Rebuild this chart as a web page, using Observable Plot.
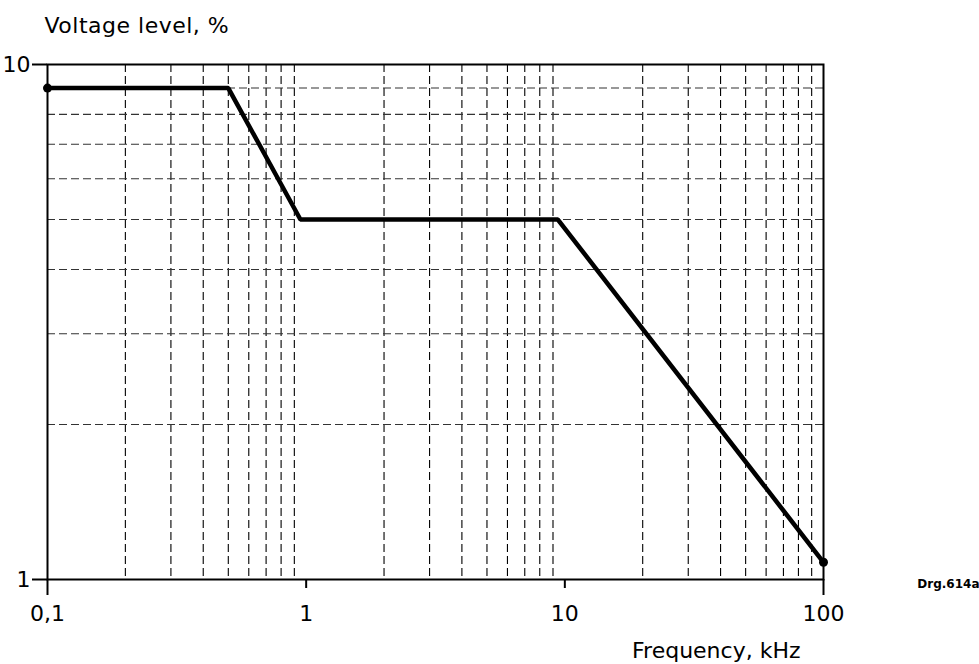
<!DOCTYPE html>
<html>
<head>
<meta charset="utf-8">
<script src="https://cdn.jsdelivr.net/npm/d3@7"></script>
<script src="https://cdn.jsdelivr.net/npm/@observablehq/plot@0.6"></script>
<style>
  html, body { margin: 0; padding: 0; background: #fff; }
</style>
</head>
<body>
<div id="chart"></div>
<script>
// Data
const freq = [0.1, 0.5, 0.95, 9.4, 100];
const level = [9, 9, 5, 5, 1.08];
const xMinor = [0.2, 0.3, 0.4, 0.5, 0.6, 0.7, 0.8, 0.9, 2, 3, 4, 5, 6, 7, 8, 9, 20, 30, 40, 50, 60, 70, 80, 90];
const yMinor = [2, 3, 4, 5, 6, 7, 8, 9];
const xTicksEnd = [0.1, 100];
const xTicksMid = [1, 10];
const xTicks = [0.1, 1, 10, 100];
const xTickLabels = ["0,1", "1", "10", "100"];
const yTicks = [1, 10];
const yTickLabels = ["1", "10"];
const yTitle = "Voltage level, %";
const xTitle = "Frequency, kHz";
const note = "Drg.614a";

const pts = freq.map((f, i) => ({f, v: level[i]}));
const ends = [pts[0], pts[pts.length - 1]];
const font = "'DejaVu Sans', sans-serif";
const xfmt = d => xTickLabels[xTicks.indexOf(d)];

const chart = Plot.plot({
  width: 979,
  height: 664,
  marginLeft: 47,
  marginRight: 156,
  marginTop: 64,
  marginBottom: 85,
  style: {fontFamily: font, fontSize: "22px", color: "#000", background: "#fff"},
  x: {type: "log", domain: [0.1, 100]},
  y: {type: "log", domain: [1, 10]},
  marks: [
    Plot.ruleX(xMinor, {x: d => d, stroke: "#000", strokeWidth: 1.1, strokeDasharray: "8,4"}),
    Plot.ruleY(yMinor, {y: d => d, stroke: "#333", strokeWidth: 1.1, strokeDasharray: "8,4"}),
    Plot.frame({stroke: "#000", strokeWidth: 2}),
    Plot.axisX(xTicksEnd, {
      tickSize: 16, tickPadding: 10, stroke: "#000", strokeWidth: 2, fontSize: 22, label: null,
      tickFormat: xfmt
    }),
    Plot.axisX(xTicksMid, {
      tickSize: 9, tickPadding: 17, stroke: "#000", strokeWidth: 2, fontSize: 22, label: null,
      tickFormat: xfmt
    }),
    Plot.axisY(yTicks, {
      tickSize: 15, tickPadding: 2, stroke: "#000", strokeWidth: 2, fontSize: 22, label: null,
      tickFormat: d => yTickLabels[yTicks.indexOf(d)]
    }),
    Plot.line(pts, {x: "f", y: "v", stroke: "#000", strokeWidth: 4.5, strokeLinejoin: "miter"}),
    Plot.dot(ends, {x: "f", y: "v", r: 4.5, fill: "#000"}),
    Plot.text([yTitle], {frameAnchor: "top-left", dx: -3, dy: -47, text: d => d, textAnchor: "start", fontSize: 22}),
    Plot.text([xTitle], {frameAnchor: "bottom-right", dx: -23, dy: 78, text: d => d, textAnchor: "end", fontSize: 22}),
    Plot.text([note], {frameAnchor: "bottom-right", dx: 156, dy: 8, text: d => d, textAnchor: "end", fontSize: 12, fontWeight: "bold"})
  ]
});
// slightly widen letter spacing of the y title
chart.querySelectorAll("text").forEach(t => {
  if (t.textContent === yTitle) t.setAttribute("letter-spacing", "0.5");
});
document.getElementById("chart").appendChild(chart);
</script>
</body>
</html>
